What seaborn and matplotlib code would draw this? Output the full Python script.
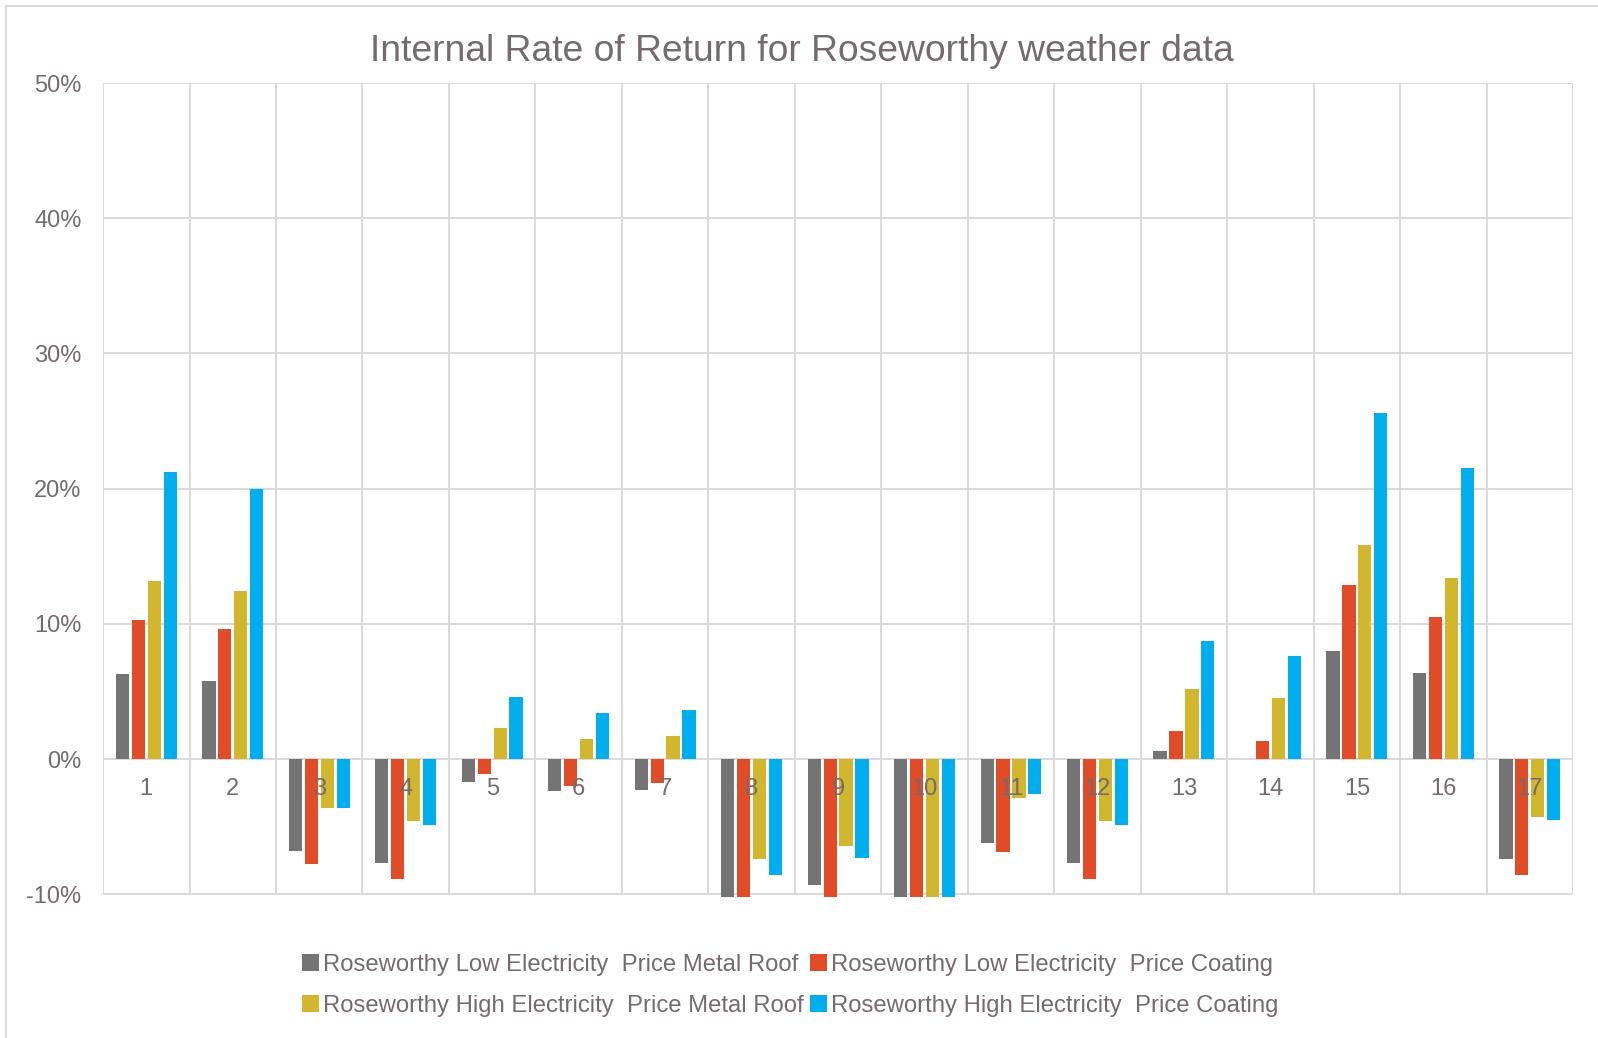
import matplotlib
matplotlib.use("Agg")
import matplotlib.pyplot as plt
from matplotlib.lines import Line2D
from matplotlib.patches import Patch
import pandas as pd
import seaborn as sns

# Scenario numbers along the x axis
categories = [str(i) for i in range(1, 18)]

series_names = [
    "Roseworthy Low Electricity  Price Metal Roof",
    "Roseworthy Low Electricity  Price Coating",
    "Roseworthy High Electricity  Price Metal Roof",
    "Roseworthy High Electricity  Price Coating",
]

# Internal rate of return (%) per scenario
low_metal = [6.3, 5.8, -6.8, -7.7, -1.7, -2.4, -2.3, -10.6, -9.3, -11.8,
             -6.2, -7.7, 0.6, 0.0, 8.0, 6.4, -7.4]
low_coating = [10.3, 9.6, -7.8, -8.9, -1.1, -2.0, -1.8, -12.9, -10.7, -13.9,
               -6.9, -8.9, 2.1, 1.3, 12.9, 10.5, -8.6]
high_metal = [13.2, 12.4, -3.6, -4.6, 2.3, 1.5, 1.7, -7.4, -6.4, -10.9,
              -2.9, -4.6, 5.2, 4.5, 15.8, 13.4, -4.3]
high_coating = [21.2, 20.0, -3.6, -4.9, 4.6, 3.4, 3.6, -8.6, -7.3, -12.2,
                -2.6, -4.9, 8.7, 7.6, 25.6, 21.5, -4.5]

y_ticks = [-10, 0, 10, 20, 30, 40, 50]

colors = ["#747474", "#e04b28", "#d2b62e", "#00aeee"]
text_color = "#756a6e"
grid_color = "#dcd8d9"

df = pd.DataFrame({
    "scenario": categories * 4,
    "series": [s for s in series_names for _ in categories],
    "irr": low_metal + low_coating + high_metal + high_coating,
})

sns.set_style("white")
plt.rcParams["font.family"] = ["Liberation Sans", "DejaVu Sans"]

fig = plt.figure(figsize=(15.98, 10.38), dpi=100)
ax = fig.add_axes([0.0645, 0.1359, 0.9199, 0.7841])

sns.barplot(data=df, x="scenario", y="irr", hue="series", order=categories,
            hue_order=series_names, palette=colors, saturation=1,
            width=0.736, gap=0.17, linewidth=0, errorbar=None, legend=False,
            ax=ax, zorder=2)

ax.set_xlim(-0.5, len(categories) - 0.5)
ax.set_ylim(-10.2, 50)
ax.set_yticks(y_ticks)
ax.set_yticklabels([f"{t}%" for t in y_ticks])

# horizontal gridlines
for t in y_ticks:
    ax.axhline(t, color=grid_color, lw=1.4, zorder=1)
# category separators
for i in range(len(categories) + 1):
    ax.plot([i - 0.5, i - 0.5], [-10, 50], color=grid_color, lw=1.4, zorder=1,
            solid_capstyle="butt")

for s in ax.spines.values():
    s.set_visible(False)
ax.spines["bottom"].set_position(("data", 0))
ax.xaxis.set_zorder(5)

ax.tick_params(axis="x", length=0, pad=14, labelsize=17, labelcolor=text_color)
ax.tick_params(axis="y", length=0, pad=15.5, labelsize=17, labelcolor=text_color)
ax.set_xlabel("")
ax.set_ylabel("")

fig.suptitle("Internal Rate of Return for Roseworthy weather data",
             x=0.502, y=0.967, fontsize=26.8, color=text_color)

order = [0, 2, 1, 3]
handles = [Patch(facecolor=colors[i], edgecolor="none") for i in order]
labels = [series_names[i] for i in order]
fig.legend(handles, labels, loc="center", bbox_to_anchor=(0.4945, 0.0506),
           ncol=2, frameon=False, fontsize=17.2, labelcolor=text_color,
           handlelength=0.7, handleheight=0.7, handletextpad=0.15,
           columnspacing=0.3, labelspacing=0.8)

# chart area border
fig.add_artist(Line2D([6 / 1598, 6 / 1598], [0, 1 - 6 / 1038],
                      transform=fig.transFigure, color="#dedadb", lw=1.5))
fig.add_artist(Line2D([6 / 1598, 1], [1 - 6 / 1038, 1 - 6 / 1038],
                      transform=fig.transFigure, color="#dedadb", lw=1.5))

fig.savefig("out.png", dpi=100)
